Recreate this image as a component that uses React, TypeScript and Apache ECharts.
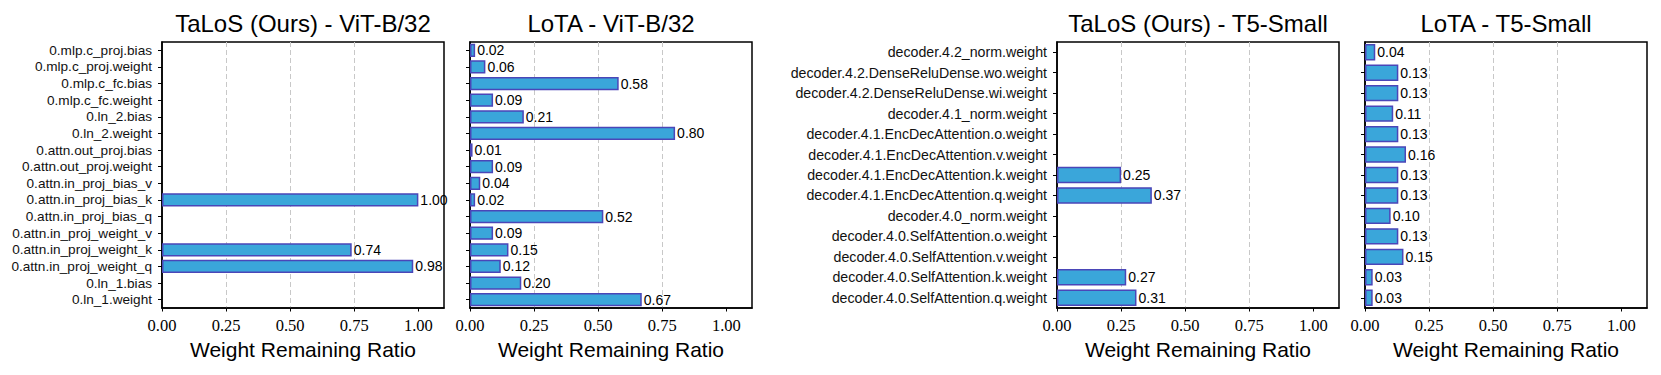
import React, { useEffect, useRef } from "react";
import * as echarts from "echarts";

const vitCategories = [
  "0.mlp.c_proj.bias",
  "0.mlp.c_proj.weight",
  "0.mlp.c_fc.bias",
  "0.mlp.c_fc.weight",
  "0.ln_2.bias",
  "0.ln_2.weight",
  "0.attn.out_proj.bias",
  "0.attn.out_proj.weight",
  "0.attn.in_proj_bias_v",
  "0.attn.in_proj_bias_k",
  "0.attn.in_proj_bias_q",
  "0.attn.in_proj_weight_v",
  "0.attn.in_proj_weight_k",
  "0.attn.in_proj_weight_q",
  "0.ln_1.bias",
  "0.ln_1.weight",
];
const vitTalos = [0, 0, 0, 0, 0, 0, 0, 0, 0, 1.0, 0, 0, 0.74, 0.98, 0, 0];
const vitLota = [0.02, 0.06, 0.58, 0.09, 0.21, 0.8, 0.01, 0.09, 0.04, 0.02, 0.52, 0.09, 0.15, 0.12, 0.2, 0.67];

const t5Categories = [
  "decoder.4.2_norm.weight",
  "decoder.4.2.DenseReluDense.wo.weight",
  "decoder.4.2.DenseReluDense.wi.weight",
  "decoder.4.1_norm.weight",
  "decoder.4.1.EncDecAttention.o.weight",
  "decoder.4.1.EncDecAttention.v.weight",
  "decoder.4.1.EncDecAttention.k.weight",
  "decoder.4.1.EncDecAttention.q.weight",
  "decoder.4.0_norm.weight",
  "decoder.4.0.SelfAttention.o.weight",
  "decoder.4.0.SelfAttention.v.weight",
  "decoder.4.0.SelfAttention.k.weight",
  "decoder.4.0.SelfAttention.q.weight",
];
const t5Talos = [0, 0, 0, 0, 0, 0, 0.25, 0.37, 0, 0, 0, 0.27, 0.31];
const t5Lota = [0.04, 0.13, 0.13, 0.11, 0.13, 0.16, 0.13, 0.13, 0.1, 0.13, 0.15, 0.03, 0.03];

const panelTitles = ["TaLoS (Ours) - ViT-B/32", "LoTA - ViT-B/32", "TaLoS (Ours) - T5-Small", "LoTA - T5-Small"];
const xTicks = [0, 0.25, 0.5, 0.75, 1.0];
const xTitle = "Weight Remaining Ratio";

const SANS = "Liberation Sans";
const SERIF = "Liberation Serif";

export default function App() {
  const ref = useRef<HTMLDivElement>(null);

  useEffect(() => {
    document.body.style.margin = "0";
    if (!ref.current) return;
    const chart = echarts.init(ref.current, undefined, { renderer: "svg" });

    const lefts = [162, 470, 1057, 1365];
    const W = 282;
    const top = 42;
    const H = 266;
    const panels = [
      { cats: vitCategories, vals: vitTalos, showLabels: true, labelSize: 13.6 },
      { cats: vitCategories, vals: vitLota, showLabels: false, labelSize: 13.6 },
      { cats: t5Categories, vals: t5Talos, showLabels: true, labelSize: 14.2 },
      { cats: t5Categories, vals: t5Lota, showLabels: false, labelSize: 14.2 },
    ];

    const grid = lefts.map((l) => ({
      left: l,
      top,
      width: W,
      height: H,
      show: true,
      borderColor: "#000",
      borderWidth: 1.5,
      backgroundColor: "transparent",
    }));

    const xAxis = lefts.map((_, i) => ({
      type: "value",
      gridIndex: i,
      min: 0,
      max: 1.1,
      interval: 0.25,
      name: xTitle,
      nameLocation: "middle",
      nameGap: 30,
      nameTextStyle: { fontFamily: SANS, fontSize: 21, color: "#000" },
      axisLine: { show: true, lineStyle: { color: "#000", width: 1.5 } },
      axisTick: { show: true, length: 3.5, lineStyle: { color: "#000", width: 1 }, customValues: xTicks },
      axisLabel: {
        customValues: xTicks,
        fontFamily: SERIF,
        fontSize: 16.5,
        color: "#000",
        margin: 9,
        formatter: (v: number) => v.toFixed(2),
      },
      splitLine: {
        show: true,
        showMinLine: false,
        showMaxLine: false,
        lineStyle: { color: "#c8c8c8", type: [5, 3], width: 1 },
      },
    }));

    const yAxis = panels.map((p, i) => ({
      type: "category",
      gridIndex: i,
      data: p.cats,
      inverse: true,
      axisLine: { show: true, lineStyle: { color: "#000", width: 1.5 } },
      axisTick: { show: true, length: 4, alignWithLabel: true, lineStyle: { color: "#000", width: 1 } },
      axisLabel: {
        show: p.showLabels,
        interval: 0,
        fontFamily: SANS,
        fontSize: p.labelSize,
        color: "#111",
        margin: 10,
      },
      splitLine: { show: false },
    }));

    const series = panels.map((p, i) => ({
      type: "bar",
      xAxisIndex: i,
      yAxisIndex: i,
      barWidth: "80%",
      data: p.vals.map((v) => (v > 0 ? v : null)),
      itemStyle: { color: "#3aa6da", borderColor: "#4a46b8", borderWidth: 1.5 },
      label: {
        show: true,
        position: "right",
        distance: 2,
        fontFamily: SANS,
        fontSize: 14,
        color: "#000",
        formatter: (q: any) => (q.value > 0 ? Number(q.value).toFixed(2) : ""),
      },
    }));

    const graphic = panelTitles.map((t, i) => ({
      type: "text",
      x: lefts[i] + W / 2,
      y: 23.7,
      style: {
        text: t,
        font: `24px ${SANS}`,
        fill: "#000",
        align: "center",
        verticalAlign: "middle",
      },
    }));

    chart.setOption({
      animation: false,
      backgroundColor: "#fff",
      grid,
      xAxis,
      yAxis,
      series,
      graphic,
    } as any);

    return () => chart.dispose();
  }, []);

  return <div ref={ref} style={{ width: 1661, height: 375 }} />;
}
